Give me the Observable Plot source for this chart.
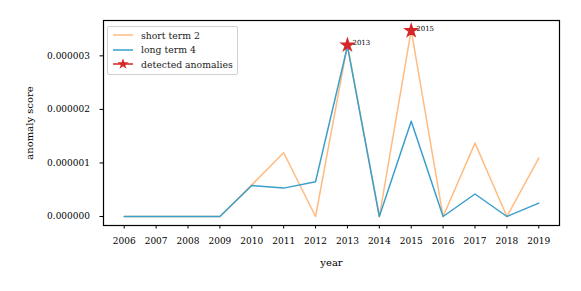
<!DOCTYPE html>
<html><head><meta charset="utf-8">
<script src="https://cdn.jsdelivr.net/npm/d3@7"></script>
<script src="https://cdn.jsdelivr.net/npm/@observablehq/plot@0.6"></script>
<style>
body{margin:0;background:#fff;}
#wrap{position:relative;width:581px;height:291px;font-family:"DejaVu Serif",serif;}
#legend{position:absolute;left:107px;top:26px;background:rgba(255,255,255,0.8);border:1px solid #d0d0d0;border-radius:2px;padding:1px 4px 2px 4px;font-size:9.3px;color:#222;}
#legend .row{display:flex;align-items:center;height:14.5px;}
#legend svg{margin-right:7px;}
</style></head><body>
<div id="wrap"></div>
<script>
const years = [2006,2007,2008,2009,2010,2011,2012,2013,2014,2015,2016,2017,2018,2019];
const shortTerm2 = [0,0,0,0,0.59e-6,1.19e-6,0,3.2e-6,0,3.48e-6,0,1.37e-6,0,1.09e-6];
const longTerm4  = [0,0,0,0,0.58e-6,0.53e-6,0.65e-6,3.18e-6,0,1.78e-6,0,0.42e-6,0,0.25e-6];
const anomalyYears = [2013,2015];
const anomalyScores = [3.2e-6,3.47e-6];
const yTicks = [0,1e-6,2e-6,3e-6];

const orange = "#ffbb80", blue = "#3a9fcb", red = "#d62728";
const shortData = years.map((y,i)=>({year:y,v:shortTerm2[i]}));
const longData = years.map((y,i)=>({year:y,v:longTerm4[i]}));
const anom = anomalyYears.map((y,i)=>({year:y,v:anomalyScores[i]}));

const chart = Plot.plot({
  width:581, height:291,
  marginLeft:103, marginRight:22, marginTop:20, marginBottom:66,
  style:{fontFamily:"DejaVu Serif, serif", fontSize:"8px", color:"#000", background:"#fff"},
  x:{domain:[2005.35,2019.65], ticks:years, tickFormat:d=>String(d), tickSize:3.5, tickPadding:9, label:"year", labelAnchor:"center", labelArrow:"none", labelOffset:40},
  y:{domain:[-0.168e-6,3.66e-6], ticks:yTicks, tickFormat:d3.format(".6f"), tickSize:3.5, tickPadding:10, label:"anomaly score", labelAnchor:"center", labelArrow:"none", labelOffset:78},
  marks:[
    Plot.line(shortData,{x:"year",y:"v",stroke:orange,strokeWidth:1.5}),
    Plot.line(longData,{x:"year",y:"v",stroke:blue,strokeWidth:1.5}),
    Plot.dot(anom,{x:"year",y:"v",symbol:"star",fill:red,stroke:red,r:3.7}),
    Plot.text(anom,{x:"year",y:"v",text:d=>String(d.year),dx:5,dy:-2,textAnchor:"start",fontSize:7,fill:"#000"}),
    Plot.frame({stroke:"#000",strokeWidth:1.2})
  ]
});
const wrap = document.getElementById("wrap");
wrap.appendChild(chart);
d3.select(chart).selectAll("[aria-label$='tick label'] text").style("font-size","9px");
d3.select(chart).selectAll("[aria-label$='axis label'] text").style("font-size","10px");

const legendItems = [
  {label:"short term 2", color:orange, star:false},
  {label:"long term 4", color:blue, star:false},
  {label:"detected anomalies", color:red, star:true}
];
const leg = document.createElement("div");
leg.id="legend";
for(const it of legendItems){
  const row=document.createElement("div");row.className="row";
  const s=d3.create("svg").attr("width",22).attr("height",10);
  s.append("line").attr("x1",1).attr("x2",21).attr("y1",5).attr("y2",5).attr("stroke",it.color).attr("stroke-width",1.5);
  if(it.star) s.append("path").attr("d",d3.symbol(d3.symbolStar,40)()).attr("transform","translate(11,5)").attr("fill",it.color);
  row.appendChild(s.node());
  const t=document.createElement("span");t.textContent=it.label;row.appendChild(t);
  leg.appendChild(row);
}
wrap.appendChild(leg);
</script>
</body></html>
